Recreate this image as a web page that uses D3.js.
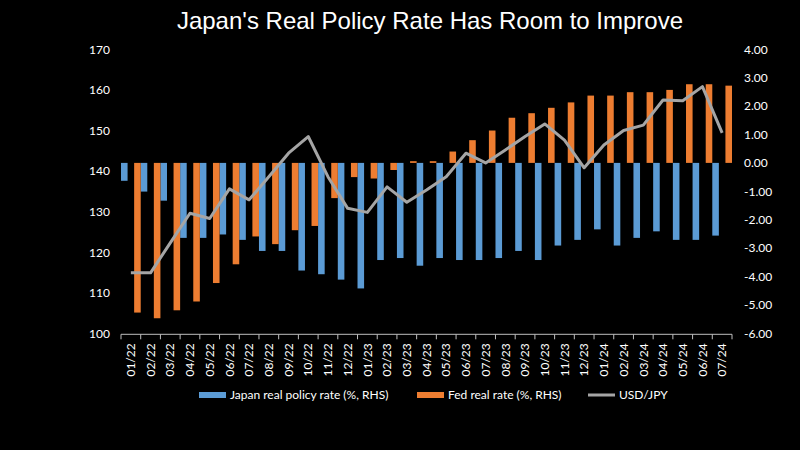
<!DOCTYPE html>
<html>
<head>
<meta charset="utf-8">
<script src="https://cdn.jsdelivr.net/npm/d3@7"></script>
<style>
  html, body { margin: 0; padding: 0; background: #000; }
  svg { display: block; }
</style>
</head>
<body>
<svg id="chart" width="800" height="450"></svg>
<script>
const categories = ["01/22","02/22","03/22","04/22","05/22","06/22","07/22","08/22","09/22","10/22","11/22","12/22",
  "01/23","02/23","03/23","04/23","05/23","06/23","07/23","08/23","09/23","10/23","11/23","12/23",
  "01/24","02/24","03/24","04/24","05/24","06/24","07/24"];
const japanRealRate = [-0.63,-1.01,-1.33,-2.64,-2.64,-2.52,-2.71,-3.10,-3.10,-3.79,-3.92,-4.11,
  -4.42,-3.42,-3.35,-3.62,-3.35,-3.42,-3.42,-3.35,-3.10,-3.42,-2.91,-2.71,
  -2.34,-2.91,-2.64,-2.41,-2.71,-2.71,-2.56];
const fedRealRate = [-5.27,-5.47,-5.19,-4.88,-4.23,-3.57,-2.59,-2.86,-2.37,-2.22,-1.24,-0.50,
  -0.55,-0.25,0.06,0.06,0.40,0.80,1.14,1.59,1.75,1.94,2.13,2.37,
  2.37,2.49,2.49,2.57,2.77,2.77,2.72];
const usdjpy = [114.9,114.9,122.3,129.6,128.3,135.6,132.9,138.6,144.4,148.5,138.6,130.8,
  129.8,136.1,132.3,135.3,138.6,144.4,142.0,145.2,148.5,151.6,147.6,140.8,
  146.4,150.0,151.3,157.5,157.3,160.8,149.4];
const leftTicks = [100,110,120,130,140,150,160,170];
const rightTicks = [-6,-5,-4,-3,-2,-1,0,1,2,3,4];
const seriesNames = ["Japan real policy rate (%, RHS)","Fed real rate (%, RHS)","USD/JPY"];

const colors = { japan: "#5B9BD5", fed: "#ED7D31", line: "#A5A5A5", text: "#FFFFFF", axis: "#BFBFBF" };
const font = "Lato, 'Open Sans', sans-serif";

const svg = d3.select("#chart");
svg.append("rect").attr("width", 800).attr("height", 450).attr("fill", "#000");

const plot = { left: 121, right: 732, top: 49.3, bottom: 333.3 };

const x = d3.scaleBand().domain(categories).range([plot.left, plot.right]).paddingInner(0).paddingOuter(0);
const yR = d3.scaleLinear().domain([-6, 4]).range([plot.bottom, plot.top]);
const yL = d3.scaleLinear().domain([100, 170]).range([plot.bottom, plot.top]);
const bw = x.bandwidth() / 3;

// Title
svg.append("text")
  .attr("x", 430).attr("y", 29)
  .attr("text-anchor", "middle")
  .attr("fill", colors.text)
  .style("font-family", "'Liberation Sans Narrow', 'Arial Narrow', 'Liberation Sans', sans-serif")
  .style("font-size", "24px")
  .text("Japan's Real Policy Rate Has Room to Improve");

// Bars
svg.append("g").selectAll("rect").data(categories).join("rect")
  .attr("x", (c) => x(c))
  .attr("width", bw)
  .attr("y", (c, i) => yR(Math.max(0, japanRealRate[i])))
  .attr("height", (c, i) => Math.abs(yR(japanRealRate[i]) - yR(0)))
  .attr("fill", colors.japan);

svg.append("g").selectAll("rect").data(categories).join("rect")
  .attr("x", (c) => x(c) + 2 * bw)
  .attr("width", bw)
  .attr("y", (c, i) => yR(Math.max(0, fedRealRate[i])))
  .attr("height", (c, i) => Math.abs(yR(fedRealRate[i]) - yR(0)))
  .attr("fill", colors.fed);

// Line
const line = d3.line()
  .x((d, i) => x(categories[i]) + x.bandwidth() / 2)
  .y((d) => yL(d));
svg.append("path").datum(usdjpy)
  .attr("d", line)
  .attr("fill", "none")
  .attr("stroke", colors.line)
  .attr("stroke-width", 3)
  .attr("stroke-linejoin", "round");

// Left axis
const gL = svg.append("g").attr("transform", `translate(${plot.left - 8},0)`)
  .call(d3.axisLeft(yL).tickValues(leftTicks).tickSize(0).tickPadding(3).tickFormat(d3.format("d")));
gL.select(".domain").remove();
gL.selectAll("text").attr("fill", colors.text).style("font-family", font).style("font-size", "12px");

// Right axis
const gR = svg.append("g").attr("transform", `translate(741,0)`)
  .call(d3.axisRight(yR).tickValues(rightTicks).tickSize(0).tickPadding(3).tickFormat((d) => d.toFixed(2)));
gR.select(".domain").remove();
gR.selectAll("text").attr("fill", colors.text).style("font-family", font).style("font-size", "12px");

// X axis
const gX = svg.append("g").attr("transform", `translate(0,${plot.bottom + 1})`);
gX.append("line").attr("x1", plot.left).attr("x2", plot.right).attr("stroke", colors.axis).attr("stroke-width", 1);
const boundaries = categories.map((c) => x(c)).concat([plot.right]);
gX.selectAll("line.tick").data(boundaries).join("line")
  .attr("class", "tick")
  .attr("x1", (d) => d).attr("x2", (d) => d)
  .attr("y1", 0).attr("y2", 5)
  .attr("stroke", colors.axis).attr("stroke-width", 1);
gX.selectAll("text").data(categories).join("text")
  .attr("transform", (c) => `translate(${x(c) + x.bandwidth() / 2},9) rotate(-90)`)
  .attr("text-anchor", "end")
  .attr("dy", "0.35em")
  .attr("fill", colors.text)
  .style("font-family", font)
  .style("font-size", "12px")
  .text((c) => c);

// Legend
const lg = svg.append("g").style("font-family", font).style("font-size", "12px");
const legendItems = [
  { name: seriesNames[0], type: "rect", color: colors.japan, x: 199 },
  { name: seriesNames[1], type: "rect", color: colors.fed, x: 417 },
  { name: seriesNames[2], type: "line", color: colors.line, x: 588 }
];
const ly = 395;
legendItems.forEach((it) => {
  if (it.type === "rect") {
    lg.append("rect").attr("x", it.x).attr("y", ly - 3).attr("width", 27).attr("height", 6).attr("fill", it.color);
  } else {
    lg.append("line").attr("x1", it.x).attr("x2", it.x + 27).attr("y1", ly).attr("y2", ly)
      .attr("stroke", it.color).attr("stroke-width", 3);
  }
  lg.append("text").attr("x", it.x + 31).attr("y", ly).attr("dy", "0.35em")
    .attr("fill", colors.text).text(it.name);
});
</script>
</body>
</html>
